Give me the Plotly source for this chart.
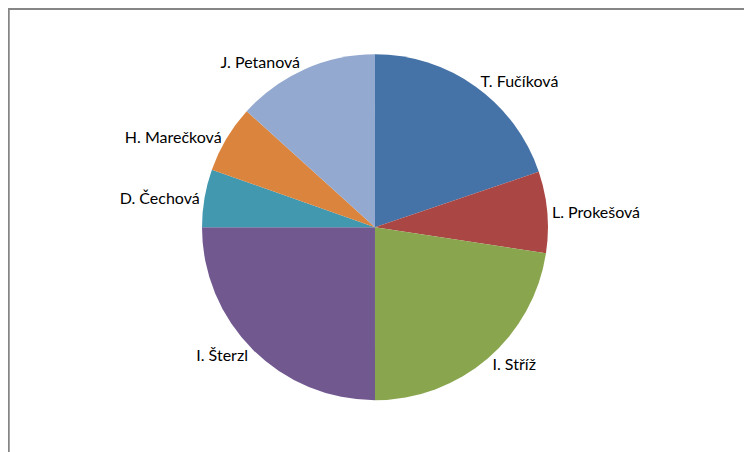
import plotly.graph_objects as go

labels = ["T. Fučíková", "L. Prokešová", "I. Stříž", "I. Šterzl", "D. Čechová", "H. Marečková", "J. Petanová"]
values = [19.8, 7.6, 22.6, 25.0, 5.4, 6.3, 13.3]
colors = ["#4572A7", "#AA4643", "#89A54E", "#71588F", "#4198AF", "#DB843D", "#93A9CF"]

fig = go.Figure(go.Pie(
    labels=labels, values=values, sort=False, direction="clockwise", rotation=0,
    marker=dict(colors=colors, line=dict(width=0)),
    textinfo="label", textposition="outside", showlegend=False,
    textfont=dict(family="Lato", size=16, color="black"),
    domain=dict(x=[0.258, 0.718], y=[0.13, 0.90]),
    hole=0,
))
fig.update_traces(automargin=False)
fig.update_layout(
    width=752, height=452, margin=dict(l=0, r=0, t=0, b=0),
    paper_bgcolor="white",
    shapes=[dict(type="rect", xref="paper", yref="paper", x0=0.001, y0=0.003, x1=0.985, y1=0.998,
                 line=dict(color="#868686", width=2))],
)
fig.write_html("out.html")
